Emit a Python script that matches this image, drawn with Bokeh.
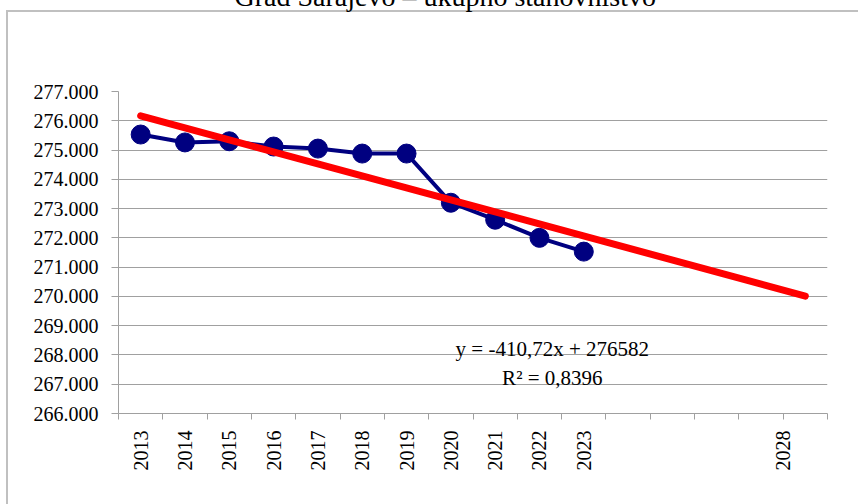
import numpy as np
from bokeh.plotting import figure
from bokeh.models import (FixedTicker, Range1d, Label, ColumnDataSource)
from bokeh.embed import file_html
from bokeh.resources import INLINE

# ---- data ----
TITLE = "Grad Sarajevo – ukupno stanovništvo"
YEARS = ["2013", "2014", "2015", "2016", "2017", "2018", "2019", "2020", "2021", "2022", "2023"]
POPULATION = [275530, 275260, 275300, 275120, 275050, 274880, 274880, 273200, 272620, 272000, 271530]
FORECAST_LABEL = "2028"
FORECAST_PERIODS = 5
TREND_SLOPE = -410.72
TREND_INTERCEPT = 276582
EQUATION_TEXT = "y = -410,72x + 276582"
R2_TEXT = "R² = 0,8396"
Y_TICKS = [266000, 267000, 268000, 269000, 270000, 271000, 272000, 273000, 274000, 275000, 276000, 277000]
Y_TICK_LABELS = ["266.000", "267.000", "268.000", "269.000", "270.000", "271.000",
                 "272.000", "273.000", "274.000", "275.000", "276.000", "277.000"]

FONT = "Liberation Serif"
GRID = "#a0a0a0"
BORDER = "#c0c0c0"
SHIFT = 120  # canvas extends above the visible page; title ends up cut at the top

n_obs = len(YEARS)
n_total = n_obs + FORECAST_PERIODS
x_obs = np.arange(1, n_obs + 1)
x_trend = np.array([1, n_total])
y_trend = TREND_SLOPE * x_trend + TREND_INTERCEPT

p = figure(width=858, height=504 + SHIFT, output_backend="svg", toolbar_location=None,
           title=TITLE,
           x_range=Range1d(0.5, n_total + 0.5), y_range=Range1d(Y_TICKS[0], Y_TICKS[-1]),
           min_border_left=118, min_border_right=31, min_border_top=91 + SHIFT,
           min_border_bottom=91)
p.outline_line_color = None
p.background_fill_color = "white"
p.border_fill_color = None
p.styles = {
    "margin-top": f"-{SHIFT}px",
    "background-color": "white",
    "background-image": f"linear-gradient({BORDER}, {BORDER}), linear-gradient({BORDER}, {BORDER})",
    "background-size": "2px 100%, 100% 2px",
    "background-position": f"6px {10 + SHIFT}px, 6px {10 + SHIFT}px",
    "background-repeat": "no-repeat",
}

p.title.align = "left"
p.title.offset = 116
p.title.standoff = 160
p.title.vertical_align = "bottom"
p.title.text_font = FONT
p.title.text_font_size = "28px"
p.title.text_font_style = "normal"
p.title.text_color = "black"

xax = p.xaxis[0]
yax = p.yaxis[0]

# x axis: labels at category centres, tick marks at category boundaries
x_label_pos = [float(i) for i in x_obs] + [n_total - 0.5]
x_labels = {}
for pos, lab in zip(x_label_pos, YEARS + [FORECAST_LABEL]):
    x_labels[pos] = lab
xax.ticker = FixedTicker(ticks=x_label_pos,
                         minor_ticks=[i + 0.5 for i in range(0, n_total + 1)])
xax.major_label_overrides = x_labels
xax.major_label_orientation = np.pi / 2
xax.major_tick_line_color = None
xax.major_tick_out = 0
xax.major_tick_in = 0
xax.minor_tick_out = 6
xax.minor_tick_in = 0
xax.minor_tick_line_color = GRID
xax.axis_line_color = GRID
xax.major_label_standoff = 11
xax.major_label_text_font = FONT
xax.major_label_text_font_size = "20px"
xax.major_label_text_font_style = "normal"
xax.major_label_text_color = "black"
p.xgrid.grid_line_color = None

yax.ticker = FixedTicker(ticks=Y_TICKS)
yax.major_label_overrides = {t: l for t, l in zip(Y_TICKS, Y_TICK_LABELS)}
yax.major_tick_out = 7
yax.major_tick_in = 0
yax.minor_tick_line_color = None
yax.major_tick_line_color = GRID
yax.axis_line_color = GRID
yax.major_label_standoff = 13
yax.major_label_text_font = FONT
yax.major_label_text_font_size = "20px"
yax.major_label_text_font_style = "normal"
yax.major_label_text_color = "black"
p.ygrid.grid_line_color = GRID

src = ColumnDataSource(dict(x=x_obs, y=POPULATION))
p.line("x", "y", source=src, line_color="#000080", line_width=4)
p.scatter("x", "y", source=src, size=19, fill_color="#000080", line_color="#000080")
p.line(x_trend, y_trend, line_color="#ff0000", line_width=7, line_cap="round")

# equation label
p.add_layout(Label(x=10.29, y=267700, text=EQUATION_TEXT + "\n" + R2_TEXT,
                   text_align="center", text_baseline="middle",
                   text_font=FONT, text_font_size="21px", text_color="black",
                   text_line_height=1.2))

open("out.html", "w").write(file_html(p, INLINE))
